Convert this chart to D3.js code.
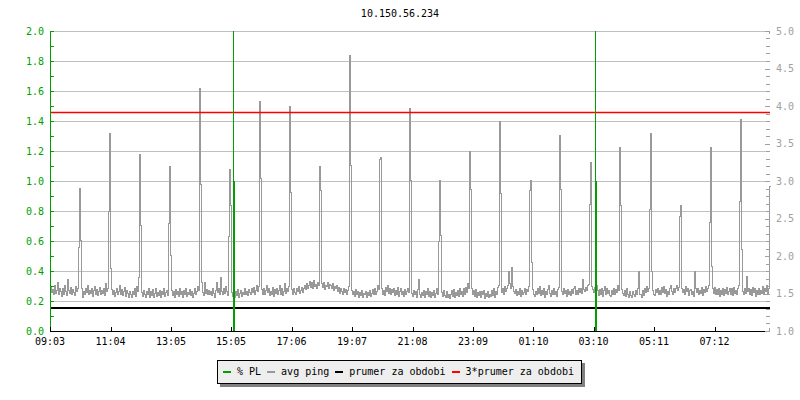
<!DOCTYPE html>
<html><head><meta charset="utf-8">
<script src="https://cdn.jsdelivr.net/npm/d3@7"></script>
<style>
body{margin:0;background:#fff}
svg{display:block}
text{font-family:"DejaVu Sans Mono",monospace;font-size:10px}
</style>
</head><body>
<svg id="c" width="800" height="400"></svg>
<script>
// ---------------- data ----------------
const chartTitle = "10.150.56.234";
const startTime = "09:03";
const spanMinutes = 1440;
const stepMinutes = 2;
const timeTickLabels = ["09:03","11:04","13:05","15:05","17:06","19:07","21:08","23:09","01:10","03:10","05:11","07:12"];
const leftTickValues = [0.0,0.2,0.4,0.6,0.8,1.0,1.2,1.4,1.6,1.8,2.0];
const rightTickValues = [1.0,1.5,2.0,2.5,3.0,3.5,4.0,4.5,5.0];
// avg ping, ms, one value per 2 minutes starting 09:03
const avgPingMs = [
1.60,1.52,1.56,1.49,1.62,1.51,1.55,1.66,1.50,1.58,1.53,1.47,1.57,1.50,1.61,1.54,1.48,1.70,1.55,1.51,
1.59,1.49,1.56,1.52,1.48,1.60,1.53,1.57,2.12,2.91,2.22,1.58,1.46,1.54,1.50,1.57,1.52,1.62,1.49,1.55,
1.51,1.58,1.47,1.55,1.60,1.50,1.56,1.48,1.53,1.59,1.49,1.55,1.51,1.57,1.48,1.64,1.54,1.58,2.60,3.64,
1.84,1.56,1.50,1.55,1.47,1.52,1.58,1.49,1.54,1.61,1.50,1.56,1.48,1.53,1.59,1.47,1.55,1.51,1.46,1.54,
1.49,1.45,1.53,1.50,1.57,1.47,1.60,1.54,1.72,3.36,2.42,1.52,1.47,1.55,1.49,1.45,1.54,1.50,1.58,1.46,
1.53,1.48,1.56,1.45,1.51,1.57,1.47,1.52,1.48,1.55,1.46,1.53,1.49,1.58,1.47,1.52,1.55,1.48,2.44,3.20,
2.02,1.55,1.48,1.53,1.46,1.56,1.50,1.54,1.47,1.57,1.49,1.53,1.46,1.55,1.50,1.58,1.47,1.52,1.49,1.56,
1.48,1.54,1.46,1.51,1.57,1.49,1.53,1.60,1.55,4.24,2.96,1.66,1.52,1.48,1.66,1.51,1.56,1.49,1.55,1.50,
1.53,1.48,1.57,1.51,1.46,1.55,1.66,1.52,1.58,1.50,1.72,1.54,1.49,1.57,1.51,1.60,1.53,1.48,2.27,3.16,
2.68,1.52,1.47,1.50,1.45,1.53,1.48,1.56,1.46,1.51,1.55,1.47,1.52,1.49,1.58,1.50,1.54,1.48,1.56,1.52,
1.49,1.57,1.52,1.59,1.50,1.55,1.62,1.53,1.60,4.07,3.04,1.56,1.50,1.58,1.49,1.55,1.61,1.52,1.57,1.48,
1.54,1.50,1.59,1.47,1.56,1.51,1.58,1.49,1.55,1.62,1.50,1.57,1.48,1.54,1.64,1.51,1.58,1.53,1.60,4.00,
2.86,1.56,1.50,1.58,1.52,1.49,1.57,1.53,1.60,1.51,1.55,1.59,1.52,1.57,1.62,1.56,1.64,1.58,1.61,1.67,
1.59,1.65,1.57,1.68,1.60,1.63,1.58,1.66,1.61,3.20,2.88,1.64,1.59,1.66,1.56,1.62,1.60,1.65,1.57,1.63,
1.61,1.58,1.64,1.55,1.60,1.57,1.62,1.53,1.59,1.51,1.57,1.54,1.50,1.58,1.52,1.56,1.49,1.55,1.60,4.68,
3.22,1.55,1.49,1.53,1.47,1.56,1.50,1.54,1.46,1.52,1.48,1.55,1.46,1.51,1.49,1.53,1.45,1.52,1.48,1.55,
1.47,1.51,1.56,1.49,1.58,1.50,1.54,1.61,1.56,3.30,3.32,1.57,1.50,1.55,1.48,1.59,1.53,1.62,1.51,1.57,
1.49,1.56,1.52,1.58,1.48,1.55,1.50,1.59,1.47,1.54,1.57,1.49,1.53,1.47,1.56,1.50,1.54,1.58,1.52,3.98,
3.02,1.51,1.47,1.55,1.49,1.53,1.46,1.56,1.70,1.50,1.46,1.52,1.48,1.55,1.45,1.53,1.49,1.57,1.47,1.54,
1.46,1.52,1.48,1.55,1.45,1.51,1.58,1.50,2.20,3.02,2.28,1.52,1.47,1.55,1.48,1.46,1.53,1.45,1.50,1.44,
1.49,1.55,1.47,1.56,1.45,1.52,1.48,1.55,1.47,1.58,1.49,1.54,1.47,1.57,1.50,1.59,1.52,1.64,1.58,3.40,
2.90,1.58,1.49,1.55,1.47,1.56,1.45,1.52,1.48,1.54,1.46,1.53,1.49,1.55,1.44,1.51,1.47,1.53,1.45,1.50,
1.47,1.55,1.48,1.57,1.46,1.53,1.50,1.59,1.62,3.80,2.84,1.52,1.58,1.50,1.60,1.53,1.57,1.62,1.80,1.64,
1.58,1.86,1.60,1.54,1.51,1.56,1.48,1.53,1.50,1.57,1.47,1.55,1.49,1.52,1.58,1.50,1.56,1.53,1.60,2.88,
3.02,1.92,1.56,1.50,1.47,1.54,1.49,1.57,1.51,1.60,1.48,1.55,1.50,1.57,1.46,1.53,1.49,1.56,1.61,1.51,
1.47,1.55,1.50,1.58,1.49,1.54,1.47,1.56,1.59,3.62,2.90,1.53,1.49,1.57,1.51,1.55,1.47,1.56,1.50,1.54,
1.48,1.56,1.51,1.58,1.60,1.50,1.55,1.49,1.57,1.52,1.58,1.51,1.70,1.56,1.53,1.59,1.55,1.61,1.63,2.70,
3.26,1.60,1.56,1.52,1.59,1.50,1.61,1.55,1.48,1.56,1.50,1.58,1.47,1.55,1.60,1.49,1.57,1.51,1.55,1.48,
1.47,1.55,1.50,1.58,1.49,1.56,1.52,1.61,1.55,3.45,2.68,1.56,1.51,1.48,1.55,1.47,1.57,1.50,1.46,1.53,
1.48,1.45,1.54,1.50,1.47,1.55,1.49,1.58,1.80,1.50,1.49,1.46,1.55,1.48,1.57,1.52,1.60,1.54,1.57,2.63,
3.64,1.80,1.55,1.50,1.48,1.56,1.52,1.58,1.49,1.55,1.50,1.59,1.52,1.60,1.51,1.56,1.47,1.54,1.50,1.57,
1.61,1.53,1.49,1.58,1.52,1.57,1.62,1.55,1.59,2.54,2.68,1.58,1.52,1.56,1.50,1.60,1.53,1.57,1.48,1.55,
1.56,1.49,1.54,1.47,1.80,1.57,1.52,1.58,1.49,1.55,1.51,1.59,1.48,1.56,1.52,1.60,1.54,1.58,1.62,2.45,
3.45,1.87,1.57,1.51,1.59,1.50,1.56,1.49,1.58,1.47,1.55,1.50,1.57,1.48,1.56,1.51,1.59,1.49,1.54,1.58,
1.50,1.57,1.48,1.59,1.51,1.55,1.49,1.58,1.62,2.74,3.83,2.10,1.54,1.49,1.57,1.51,1.74,1.53,1.58,1.50,
1.56,1.48,1.59,1.52,1.57,1.47,1.55,1.50,1.58,1.49,1.55,1.51,1.60,1.49,1.57,1.53,1.62,1.50,1.58,2.93
];
const prumerMs = 1.305;            // prumer za obdobi
const prumer3Ms = 3 * prumerMs;    // 3*prumer za obdobi
const plTimes = ["15:11","03:15"]; // % PL events
const plValues = [1.0, 1.0];
const legendLabels = ["% PL","avg ping","prumer za obdobi","3*prumer za obdobi"];
const legendColors = ["#00a000","#999999","#000000","#ff0000"];

// ---------------- drawing ----------------
const svg = d3.select("#c");
const L = 50, R = 770, T = 31, B = 331;
const toOffset = s => {
  const [h, m] = s.split(":").map(Number);
  const [h0, m0] = startTime.split(":").map(Number);
  return ((h * 60 + m) - (h0 * 60 + m0) + 1440) % 1440;
};
const x = d3.scaleLinear().domain([0, spanMinutes]).range([L, R]);
const yL = d3.scaleLinear().domain([0, 2]).range([B, T]);
const yR = d3.scaleLinear().domain([1, 5]).range([B, T]);

// title
svg.append("text").attr("x", 400).attr("y", 17).attr("text-anchor", "middle")
  .attr("fill", "#000").text(chartTitle);

// gridlines
const grid = svg.append("g").attr("shape-rendering", "crispEdges");
grid.selectAll("line").data(leftTickValues.filter(v => v > 0)).join("line")
  .attr("x1", L).attr("x2", R)
  .attr("y1", d => Math.round(yL(d)) + 0.5).attr("y2", d => Math.round(yL(d)) + 0.5)
  .attr("stroke", "#c0c0c0");

// ping line
const pingLine = d3.line()
  .x((d, i) => x(i * stepMinutes) + 0.5)
  .y(d => Math.round(yR(d)) + 0.5)
  .curve(d3.curveStepAfter);
svg.append("path")
  .datum(avgPingMs.concat([avgPingMs[avgPingMs.length - 1]]))
  .attr("d", pingLine).attr("fill", "none").attr("stroke", "#999999")
  .attr("stroke-width", 1).attr("shape-rendering", "crispEdges");

// prumer lines
svg.append("line").attr("x1", L).attr("x2", R)
  .attr("y1", yR(prumerMs)).attr("y2", yR(prumerMs))
  .attr("stroke", "#000").attr("stroke-width", 2).attr("shape-rendering", "crispEdges");
svg.append("line").attr("x1", L).attr("x2", R)
  .attr("y1", Math.round(yR(prumer3Ms)) + 0.5).attr("y2", Math.round(yR(prumer3Ms)) + 0.5)
  .attr("stroke", "#ff0000").attr("stroke-width", 1.5);

// % PL
const plG = svg.append("g").attr("shape-rendering", "crispEdges");
plTimes.forEach((t, i) => {
  const px = Math.round(x(toOffset(t)));
  plG.append("line").attr("x1", px - 0.5).attr("x2", px - 0.5)
    .attr("y1", B).attr("y2", T).attr("stroke", "#00a000").attr("stroke-width", 1);
  plG.append("line").attr("x1", px).attr("x2", px)
    .attr("y1", B).attr("y2", yL(plValues[i])).attr("stroke", "#00a000").attr("stroke-width", 2);
});

// left axis
const la = svg.append("g").attr("shape-rendering", "crispEdges");
la.append("line").attr("x1", L + 0.5).attr("x2", L + 0.5).attr("y1", T).attr("y2", B + 1)
  .attr("stroke", "#00a000").attr("stroke-width", 1);
la.selectAll("line.t").data(yL.ticks(20)).join("line").attr("class", "t")
  .attr("x1", L).attr("x2", L + 4)
  .attr("y1", d => Math.round(yL(d)) + 0.5).attr("y2", d => Math.round(yL(d)) + 0.5)
  .attr("stroke", "#00a000");
la.selectAll("text").data(leftTickValues).join("text")
  .attr("x", 44).attr("y", d => yL(d) + 3.5).attr("text-anchor", "end")
  .attr("fill", "#00a000").text(d => d.toFixed(1));

// right axis
const ra = svg.append("g").attr("shape-rendering", "crispEdges");
ra.selectAll("line.t").data(yR.ticks(40)).join("line").attr("class", "t")
  .attr("x1", d => rightTickValues.includes(+d.toFixed(1)) ? R - 5 : R - 4).attr("x2", R)
  .attr("y1", d => Math.round(yR(d)) + 0.5).attr("y2", d => Math.round(yR(d)) + 0.5)
  .attr("stroke", "#a0a0a0");
ra.append("line").attr("x1", R - 0.5).attr("x2", R - 0.5).attr("y1", T).attr("y2", T + 3).attr("stroke", "#a0a0a0");
ra.append("line").attr("x1", R - 0.5).attr("x2", R - 0.5).attr("y1", B - 3).attr("y2", B).attr("stroke", "#a0a0a0");
ra.selectAll("text").data(rightTickValues).join("text")
  .attr("x", 776).attr("y", d => yR(d) + 3.5)
  .attr("fill", "#a0a0a0").text(d => d.toFixed(1));

// bottom axis
const ba = svg.append("g").attr("shape-rendering", "crispEdges");
ba.append("line").attr("x1", L).attr("x2", R - 5).attr("y1", B + 0.5).attr("y2", B + 0.5).attr("stroke", "#000");
ba.selectAll("line.t").data(timeTickLabels).join("line").attr("class", "t")
  .attr("x1", d => Math.round(x(toOffset(d))) + 0.5).attr("x2", d => Math.round(x(toOffset(d))) + 0.5)
  .attr("y1", B - 4).attr("y2", B).attr("stroke", "#000");
ba.selectAll("text").data(timeTickLabels).join("text")
  .attr("x", d => x(toOffset(d))).attr("y", 345).attr("text-anchor", "middle")
  .attr("fill", "#000").text(d => d);

// legend
const lg = svg.append("g");
const lgX = 217, lgY = 360, lgH = 23;
const shadow = lg.append("rect").attr("fill", "#808080");
const box = lg.append("rect").attr("fill", "#eeeeee").attr("stroke", "#000").attr("shape-rendering", "crispEdges");
let cx = lgX + 6;
legendLabels.forEach((lab, i) => {
  lg.append("line").attr("x1", cx).attr("x2", cx + 8).attr("y1", 372).attr("y2", 372)
    .attr("stroke", legendColors[i]).attr("stroke-width", 2).attr("shape-rendering", "crispEdges");
  const t = lg.append("text").attr("x", cx + 14).attr("y", 375).attr("fill", "#000").text(lab);
  cx += 14 + t.node().getComputedTextLength() + 6;
});
const lgW = cx + 1 - lgX;
box.attr("x", lgX + 0.5).attr("y", lgY + 0.5).attr("width", lgW).attr("height", lgH);
shadow.attr("x", lgX + 3).attr("y", lgY + 3).attr("width", lgW + 1).attr("height", lgH + 1);
</script>
</body></html>
